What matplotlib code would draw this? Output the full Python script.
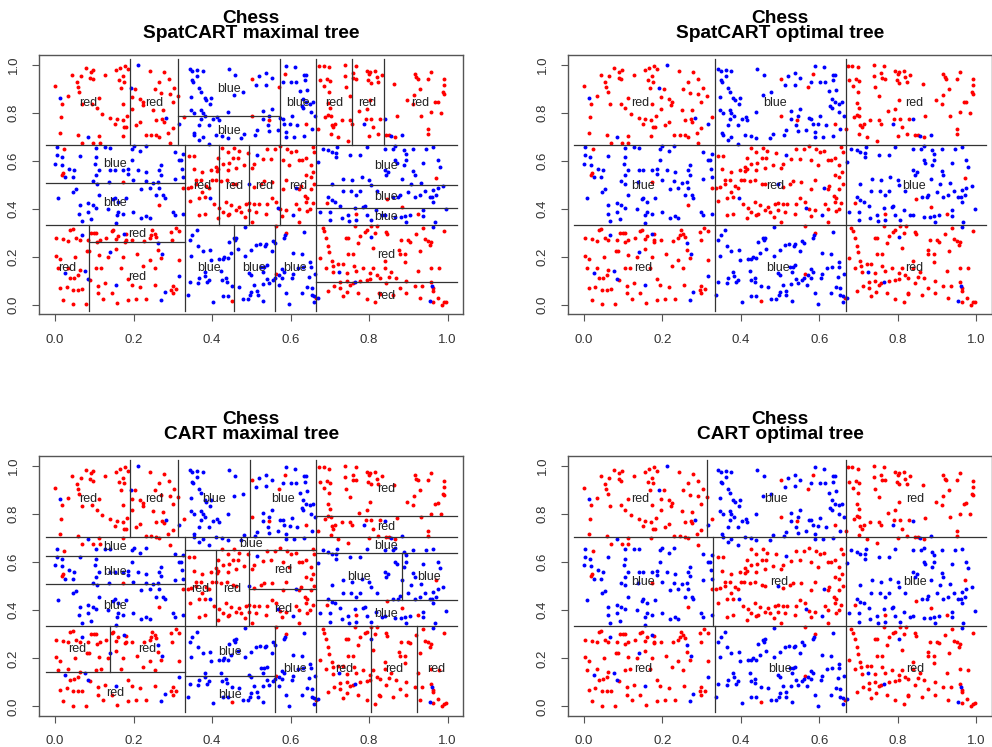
import matplotlib
matplotlib.use('Agg')
import matplotlib.pyplot as plt
import numpy as np

plt.rcParams['font.family'] = ['Liberation Sans', 'DejaVu Sans']

# chess data, points (x, y)
red_pts = [
    # top-left cell
    (0.078,0.985),(0.091,0.970),(0.098,0.979),(0.155,0.976),(0.166,0.987),(0.178,0.996),(0.186,0.981),(0.243,0.975),(0.278,0.968),
    (0.044,0.957),(0.065,0.951),(0.089,0.946),(0.096,0.938),(0.055,0.927),(0.127,0.958),(0.173,0.951),(0.163,0.934),(0.176,0.929),
    (0.266,0.929),(0.290,0.938),(0.000,0.910),(0.058,0.906),(0.061,0.885),(0.169,0.902),(0.205,0.899),(0.254,0.899),(0.304,0.904),
    (0.034,0.869),(0.113,0.862),(0.197,0.864),(0.216,0.857),(0.224,0.846),(0.271,0.880),(0.292,0.877),(0.313,0.871),
    (0.019,0.837),(0.068,0.834),(0.094,0.838),(0.106,0.819),(0.173,0.837),(0.223,0.833),(0.197,0.816),(0.250,0.812),(0.275,0.809),
    (0.300,0.844),(0.016,0.781),(0.121,0.795),(0.141,0.779),(0.157,0.772),(0.172,0.768),(0.184,0.786),(0.258,0.768),(0.272,0.772),
    (0.277,0.763),(0.328,0.781),(0.216,0.761),(0.152,0.751),(0.176,0.740),(0.182,0.740),(0.206,0.747),(0.300,0.736),
    (0.014,0.716),(0.059,0.709),(0.113,0.701),(0.172,0.701),(0.231,0.708),(0.245,0.708),(0.258,0.705),(0.266,0.700),(0.289,0.716),
    (0.070,0.675),(0.097,0.675),(0.114,0.675),(0.292,0.673),
    # noise in top-middle cell
    (0.503,0.941),(0.571,0.906),(0.585,0.961),(0.502,0.788),(0.544,0.770),(0.640,0.754),
    # top-right cell
    (0.673,0.996),(0.684,0.996),(0.699,0.989),(0.675,0.934),(0.694,0.938),(0.700,0.931),(0.685,0.910),(0.699,0.888),(0.696,0.841),
    (0.700,0.820),(0.688,0.781),(0.696,0.791),(0.702,0.788),(0.705,0.750),(0.709,0.740),(0.713,0.754),(0.702,0.712),(0.722,0.698),
    (0.669,0.730),(0.739,0.999),(0.739,0.954),(0.741,0.906),(0.751,0.871),(0.758,0.965),(0.760,0.943),(0.768,0.941),(0.766,0.996),
    (0.794,0.975),(0.802,0.971),(0.798,0.934),(0.804,0.924),(0.800,0.961),(0.815,0.975),(0.819,0.947),(0.832,0.957),(0.823,0.927),
    (0.802,0.851),(0.794,0.816),(0.775,0.806),(0.791,0.775),(0.806,0.775),(0.829,0.775),(0.730,0.768),(0.751,0.768),(0.756,0.754),
    (0.811,0.740),(0.823,0.711),(0.800,0.701),(0.844,0.705),(0.851,0.705),(0.866,0.698),(0.747,0.680),(0.863,0.920),(0.870,0.786),
    (0.897,0.851),(0.916,0.961),(0.920,0.947),(0.924,0.941),(0.950,0.941),(0.959,0.971),(0.931,0.899),(0.914,0.874),(0.912,0.837),
    (0.933,0.788),(0.959,0.802),(0.984,0.799),(0.992,0.938),(0.992,0.913),(0.988,0.885),(0.992,0.878),(0.975,0.846),(0.969,0.844),
    (0.950,0.730),(0.950,0.710),
    # noise in middle-left cell
    (0.023,0.647),(0.021,0.550),(0.019,0.542),(0.173,0.512),(0.327,0.487),(0.266,0.415),
    # centre cell
    (0.341,0.620),(0.355,0.620),(0.426,0.653),(0.440,0.636),(0.457,0.653),(0.468,0.639),(0.491,0.633),(0.541,0.647),(0.561,0.647),
    (0.573,0.661),(0.592,0.647),(0.601,0.636),(0.613,0.639),(0.660,0.636),(0.656,0.657),(0.415,0.611),(0.410,0.574),(0.416,0.564),
    (0.412,0.556),(0.427,0.588),(0.442,0.592),(0.453,0.611),(0.465,0.611),(0.440,0.560),(0.461,0.570),(0.482,0.584),(0.503,0.570),
    (0.508,0.588),(0.353,0.564),(0.375,0.553),(0.398,0.560),(0.360,0.519),(0.372,0.519),(0.360,0.501),(0.347,0.491),(0.338,0.487),
    (0.385,0.495),(0.392,0.487),(0.409,0.519),(0.400,0.519),(0.423,0.514),(0.437,0.519),(0.453,0.505),(0.461,0.501),(0.508,0.491),
    (0.525,0.505),(0.533,0.514),(0.554,0.512),(0.580,0.484),(0.588,0.519),(0.622,0.484),(0.626,0.495),(0.529,0.606),(0.550,0.609),
    (0.580,0.602),(0.596,0.581),(0.622,0.602),(0.630,0.602),(0.640,0.611),(0.651,0.581),(0.639,0.539),(0.651,0.532),(0.657,0.553),
    (0.375,0.470),(0.381,0.449),(0.366,0.445),(0.343,0.431),(0.406,0.418),(0.419,0.404),(0.436,0.429),(0.448,0.415),(0.470,0.408),
    (0.474,0.387),(0.461,0.394),(0.486,0.418),(0.495,0.422),(0.508,0.418),(0.519,0.418),(0.512,0.387),(0.495,0.394),(0.427,0.387),
    (0.440,0.376),(0.444,0.380),(0.415,0.360),(0.366,0.373),(0.381,0.380),(0.485,0.367),(0.503,0.346),(0.563,0.429),(0.552,0.443),
    (0.541,0.418),(0.537,0.380),(0.573,0.397),(0.578,0.371),(0.588,0.394),(0.614,0.418),(0.622,0.401),(0.637,0.454),(0.643,0.445),
    (0.639,0.429),(0.649,0.401),(0.643,0.390),(0.656,0.422),(0.651,0.484),(0.660,0.501),(0.622,0.346),
    # noise in middle-right cell
    (0.971,0.528),(0.692,0.422),(0.847,0.440),(0.768,0.380),(0.885,0.408),(0.925,0.380),
    # bottom-left cell
    (0.038,0.311),(0.045,0.315),(0.093,0.301),(0.099,0.301),(0.104,0.301),(0.144,0.307),(0.148,0.311),(0.180,0.293),(0.180,0.270),
    (0.178,0.263),(0.155,0.274),(0.161,0.288),(0.131,0.277),(0.114,0.270),(0.106,0.260),(0.085,0.270),(0.082,0.224),(0.063,0.270),
    (0.053,0.277),(0.034,0.266),(0.021,0.274),(0.003,0.277),(0.051,0.201),(0.087,0.224),(0.113,0.207),(0.135,0.201),(0.155,0.232),
    (0.173,0.201),(0.197,0.270),(0.209,0.210),(0.228,0.266),(0.241,0.277),(0.245,0.290),(0.254,0.297),(0.258,0.284),(0.262,0.228),
    (0.248,0.311),(0.296,0.304),(0.299,0.270),(0.317,0.307),(0.307,0.321),(0.003,0.205),(0.013,0.189),(0.008,0.152),(0.034,0.155),
    (0.063,0.145),(0.059,0.124),(0.048,0.113),(0.038,0.111),(0.089,0.104),(0.104,0.152),(0.117,0.155),(0.127,0.090),(0.169,0.155),
    (0.186,0.108),(0.195,0.083),(0.216,0.076),(0.224,0.163),(0.241,0.187),(0.254,0.152),(0.271,0.194),(0.317,0.187),(0.300,0.080),
    (0.309,0.066),(0.296,0.062),(0.300,0.048),(0.256,0.083),(0.013,0.069),(0.030,0.076),(0.047,0.062),(0.059,0.062),(0.070,0.066),
    (0.110,0.080),(0.110,0.048),(0.021,0.021),(0.047,0.003),(0.080,0.003),(0.123,0.025),(0.158,0.007),(0.186,0.021),(0.207,0.025),
    (0.233,0.025),(0.144,0.048),
    # noise in bottom-middle cell
    (0.563,0.329),(0.588,0.301),(0.564,0.127),(0.451,0.017),(0.666,0.028),
    # bottom-right cell
    (0.682,0.321),(0.685,0.307),(0.690,0.279),(0.696,0.246),(0.699,0.219),(0.675,0.194),(0.705,0.183),(0.707,0.163),(0.690,0.155),
    (0.709,0.136),(0.741,0.279),(0.747,0.279),(0.764,0.329),(0.789,0.304),(0.794,0.311),(0.806,0.329),(0.815,0.301),(0.821,0.329),
    (0.844,0.304),(0.846,0.293),(0.772,0.256),(0.810,0.235),(0.760,0.210),(0.747,0.210),(0.722,0.169),(0.733,0.169),(0.743,0.134),
    (0.761,0.163),(0.768,0.141),(0.785,0.152),(0.802,0.131),(0.811,0.152),(0.840,0.155),(0.819,0.124),(0.827,0.113),(0.802,0.108),
    (0.794,0.104),(0.777,0.100),(0.758,0.090),(0.751,0.083),(0.743,0.100),(0.727,0.097),(0.727,0.072),(0.711,0.080),(0.696,0.058),
    (0.733,0.035),(0.744,0.055),(0.772,0.048),(0.794,0.025),(0.815,0.011),(0.826,0.048),(0.827,0.044),(0.844,0.090),(0.851,0.118),
    (0.857,0.138),(0.840,0.183),(0.876,0.228),(0.878,0.210),(0.891,0.210),(0.891,0.180),(0.882,0.270),(0.899,0.270),(0.905,0.263),
    (0.920,0.297),(0.937,0.321),(0.992,0.307),(0.942,0.274),(0.950,0.266),(0.959,0.260),(0.955,0.249),(0.931,0.224),(0.959,0.155),
    (0.978,0.152),(0.925,0.141),(0.868,0.111),(0.895,0.100),(0.916,0.080),(0.935,0.080),(0.959,0.094),(0.963,0.069),(0.964,0.058),
    (0.878,0.072),(0.895,0.048),(0.929,0.028),(0.963,0.014),(0.976,0.030),(0.992,0.011),(0.986,0.000),(0.997,0.014),(0.861,0.041),
    (0.777,0.288),
]

blue_pts = [
    # noise in top-left cell
    (0.212,0.999),(0.193,0.902),(0.013,0.862),(0.283,0.777),(0.316,0.754),(0.085,0.698),
    # top-middle cell
    (0.343,0.982),(0.349,0.975),(0.362,0.979),(0.376,0.975),(0.362,0.954),(0.349,0.934),(0.351,0.929),(0.368,0.903),(0.372,0.888),
    (0.347,0.867),(0.381,0.860),(0.385,0.851),(0.398,0.860),(0.395,0.834),(0.347,0.812),(0.355,0.799),(0.372,0.812),(0.376,0.799),
    (0.372,0.775),(0.383,0.788),(0.393,0.747),(0.403,0.772),(0.413,0.781),(0.417,0.768),(0.368,0.747),(0.353,0.716),(0.355,0.705),
    (0.376,0.698),(0.368,0.685),(0.393,0.671),(0.410,0.705),(0.426,0.701),(0.440,0.694),(0.442,0.982),(0.459,0.957),(0.457,0.874),
    (0.478,0.885),(0.440,0.802),(0.482,0.712),(0.474,0.694),(0.512,0.913),(0.520,0.952),(0.537,0.965),(0.537,0.916),(0.552,0.943),
    (0.580,0.929),(0.588,0.996),(0.612,0.989),(0.602,0.929),(0.614,0.929),(0.635,0.957),(0.640,0.957),(0.636,0.934),(0.624,0.889),
    (0.643,0.896),(0.632,0.858),(0.640,0.844),(0.628,0.827),(0.632,0.819),(0.649,0.837),(0.657,0.844),(0.651,0.802),(0.662,0.788),
    (0.529,0.805),(0.552,0.816),(0.529,0.772),(0.546,0.788),(0.542,0.747),(0.574,0.777),(0.580,0.775),(0.603,0.784),(0.584,0.754),
    (0.598,0.751),(0.617,0.747),(0.654,0.730),(0.588,0.719),(0.588,0.698),(0.609,0.698),(0.635,0.701),(0.514,0.726),(0.510,0.708),
    (0.546,0.722),(0.567,0.729),
    # noise in top-right cell
    (0.840,0.772),(0.788,0.754),(0.857,0.701),(0.885,0.708),
    # middle-left cell
    (0.004,0.657),(0.004,0.622),(0.017,0.615),(0.019,0.584),(0.000,0.588),(0.036,0.567),(0.048,0.560),(0.025,0.532),(0.045,0.532),
    (0.063,0.620),(0.104,0.653),(0.127,0.657),(0.140,0.653),(0.104,0.615),(0.103,0.588),(0.113,0.560),(0.104,0.539),(0.140,0.560),
    (0.152,0.560),(0.096,0.514),(0.106,0.505),(0.138,0.512),(0.173,0.560),(0.186,0.564),(0.186,0.546),(0.200,0.661),(0.195,0.650),
    (0.216,0.639),(0.231,0.661),(0.195,0.602),(0.199,0.519),(0.212,0.560),(0.233,0.553),(0.231,0.514),(0.250,0.509),(0.262,0.512),
    (0.271,0.542),(0.266,0.560),(0.271,0.581),(0.305,0.636),(0.317,0.602),(0.321,0.602),(0.326,0.629),(0.324,0.567),(0.326,0.532),
    (0.305,0.525),(0.266,0.487),(0.275,0.456),(0.258,0.456),(0.220,0.484),(0.241,0.487),(0.008,0.443),(0.053,0.481),(0.047,0.470),
    (0.113,0.456),(0.152,0.445),(0.148,0.440),(0.182,0.443),(0.161,0.429),(0.063,0.415),(0.085,0.422),(0.096,0.415),(0.104,0.404),
    (0.062,0.380),(0.085,0.387),(0.068,0.349),(0.093,0.357),(0.135,0.401),(0.161,0.387),(0.157,0.373),(0.173,0.380),(0.155,0.339),
    (0.199,0.387),(0.220,0.362),(0.233,0.371),(0.241,0.362),(0.300,0.387),(0.305,0.373),(0.326,0.380),(0.279,0.445),
    # noise in centre cell
    (0.514,0.625),(0.495,0.501),(0.613,0.487),(0.395,0.445),(0.567,0.404),(0.607,0.376),
    # middle-right cell
    (0.682,0.650),(0.696,0.643),(0.705,0.636),(0.716,0.633),(0.717,0.615),(0.719,0.657),(0.751,0.622),(0.777,0.622),(0.794,0.657),
    (0.840,0.650),(0.860,0.650),(0.866,0.660),(0.888,0.643),(0.893,0.629),(0.912,0.650),(0.866,0.602),(0.870,0.592),(0.893,0.602),
    (0.888,0.581),(0.912,0.556),(0.916,0.539),(0.937,0.592),(0.946,0.650),(0.963,0.657),(0.975,0.602),(0.980,0.574),(0.671,0.595),
    (0.734,0.525),(0.756,0.519),(0.781,0.532),(0.800,0.519),(0.804,0.498),(0.840,0.560),(0.849,0.553),(0.844,0.539),(0.885,0.525),
    (0.908,0.505),(0.933,0.509),(0.975,0.487),(0.988,0.495),(0.963,0.477),(0.705,0.505),(0.733,0.473),(0.754,0.473),(0.777,0.473),
    (0.767,0.456),(0.819,0.473),(0.696,0.449),(0.705,0.436),(0.713,0.429),(0.726,0.411),(0.861,0.449),(0.874,0.449),(0.878,0.459),
    (0.899,0.470),(0.916,0.449),(0.929,0.456),(0.942,0.473),(0.954,0.449),(0.961,0.449),(0.971,0.456),(0.963,0.429),(0.675,0.387),
    (0.700,0.387),(0.730,0.362),(0.747,0.376),(0.764,0.404),(0.789,0.412),(0.785,0.408),(0.817,0.394),(0.794,0.376),(0.832,0.373),
    (0.840,0.376),(0.866,0.366),(0.882,0.366),(0.891,0.371),(0.904,0.376),(0.937,0.394),(0.937,0.371),(0.997,0.397),(0.700,0.353),
    (0.750,0.349),(0.768,0.353),(0.806,0.353),(0.895,0.346),(0.967,0.346),
    # noise in bottom-left cell
    (0.068,0.290),(0.175,0.297),(0.141,0.221),(0.262,0.256),(0.273,0.210),(0.025,0.131),(0.076,0.141),(0.085,0.108),(0.155,0.083),
    (0.317,0.122),(0.279,0.053),(0.271,0.021),
    # bottom-middle cell
    (0.361,0.311),(0.349,0.290),(0.343,0.270),(0.364,0.246),(0.376,0.224),(0.395,0.228),(0.398,0.187),(0.347,0.205),(0.427,0.191),
    (0.431,0.201),(0.440,0.194),(0.419,0.191),(0.444,0.260),(0.457,0.277),(0.459,0.270),(0.461,0.279),(0.465,0.232),(0.448,0.214),
    (0.485,0.205),(0.485,0.325),(0.499,0.228),(0.512,0.249),(0.522,0.252),(0.536,0.246),(0.537,0.252),(0.556,0.266),(0.561,0.256),
    (0.552,0.224),(0.586,0.290),(0.584,0.279),(0.635,0.304),(0.607,0.214),(0.630,0.210),(0.649,0.177),(0.651,0.159),(0.647,0.118),
    (0.662,0.127),(0.632,0.159),(0.620,0.155),(0.607,0.127),(0.605,0.111),(0.584,0.138),(0.578,0.149),(0.571,0.124),(0.579,0.113),
    (0.561,0.113),(0.556,0.104),(0.541,0.108),(0.546,0.090),(0.533,0.159),(0.539,0.166),(0.525,0.159),(0.531,0.138),(0.495,0.131),
    (0.499,0.124),(0.423,0.141),(0.381,0.138),(0.383,0.122),(0.368,0.111),(0.392,0.104),(0.387,0.094),(0.364,0.090),(0.343,0.094),
    (0.426,0.104),(0.436,0.113),(0.437,0.097),(0.470,0.076),(0.451,0.080),(0.508,0.083),(0.529,0.086),(0.514,0.058),(0.499,0.055),
    (0.497,0.041),(0.516,0.041),(0.491,0.025),(0.478,0.025),(0.440,0.039),(0.427,0.039),(0.402,0.014),(0.338,0.041),(0.531,0.017),
    (0.570,0.083),(0.588,0.048),(0.597,0.003),(0.630,0.048),(0.643,0.076),(0.654,0.072),(0.654,0.041),(0.660,0.035),(0.660,0.011),
    # noise in bottom-right cell
    (0.804,0.281),(0.724,0.138),(0.764,0.094),(0.963,0.325),(0.961,0.080),(0.954,0.017),(0.671,0.030),
]

# partition segments (x0, y0, x1, y1) of each tree
lo, hi = -0.024, 1.024
spat_max_splits = [
    (lo, 0.667, hi, 0.667), (lo, 0.332, hi, 0.332),
    (0.086, 0.332, 0.086, lo), (0.086, 0.260, 0.331, 0.260),
    (0.331, 0.667, 0.331, lo), (lo, 0.509, 0.331, 0.509),
    (0.418, 0.667, 0.418, 0.332), (0.494, 0.667, 0.494, 0.332),
    (0.574, hi, 0.574, 0.332), (0.665, hi, 0.665, lo),
    (0.192, hi, 0.192, 0.667), (0.314, hi, 0.314, 0.667), (0.314, 0.784, 0.574, 0.784),
    (0.757, hi, 0.757, 0.667), (0.837, hi, 0.837, 0.667),
    (0.665, 0.498, hi, 0.498), (0.665, 0.405, hi, 0.405),
    (0.456, 0.332, 0.456, lo), (0.560, 0.332, 0.560, lo),
    (0.665, 0.094, hi, 0.094),
]
spat_max_labels = [
    (0.084, 0.841, 'red'), (0.253, 0.841, 'red'), (0.444, 0.899, 'blue'), (0.444, 0.722, 'blue'),
    (0.619, 0.841, 'blue'), (0.710, 0.841, 'red'), (0.795, 0.841, 'red'), (0.929, 0.841, 'red'),
    (0.152, 0.585, 'blue'), (0.152, 0.422, 'blue'), (0.374, 0.495, 'red'), (0.456, 0.495, 'red'),
    (0.532, 0.495, 'red'), (0.619, 0.495, 'red'), (0.843, 0.578, 'blue'), (0.843, 0.450, 'blue'),
    (0.843, 0.364, 'blue'), (0.209, 0.293, 'red'), (0.030, 0.152, 'red'), (0.209, 0.115, 'red'),
    (0.393, 0.152, 'blue'), (0.506, 0.152, 'blue'), (0.612, 0.152, 'blue'), (0.843, 0.207, 'red'),
    (0.843, 0.035, 'red'),
]

spat_opt_splits = [
    (lo, 0.664, hi, 0.664), (lo, 0.332, hi, 0.332),
    (0.334, hi, 0.334, lo), (0.667, hi, 0.667, lo),
]
spat_opt_labels = [
    (0.144, 0.842, 'red'), (0.487, 0.842, 'blue'), (0.841, 0.842, 'red'),
    (0.151, 0.494, 'blue'), (0.487, 0.494, 'red'), (0.841, 0.494, 'blue'),
    (0.151, 0.154, 'red'), (0.494, 0.154, 'blue'), (0.841, 0.154, 'red'),
]

cart_max_splits = [
    (lo, 0.705, hi, 0.705), (lo, 0.334, hi, 0.334),
    (0.192, hi, 0.192, 0.705), (0.314, hi, 0.314, 0.705), (0.498, hi, 0.498, 0.705),
    (0.665, hi, 0.665, lo), (0.665, 0.791, hi, 0.791),
    (lo, 0.625, 0.331, 0.625), (lo, 0.510, 0.331, 0.510), (0.331, 0.705, 0.331, lo),
    (0.331, 0.650, 0.665, 0.650), (0.410, 0.650, 0.410, 0.334), (0.494, 0.650, 0.494, 0.334),
    (0.494, 0.489, 0.665, 0.489),
    (0.665, 0.638, hi, 0.638), (0.665, 0.442, hi, 0.442), (0.883, 0.638, 0.883, 0.442),
    (0.139, 0.334, 0.139, 0.143), (lo, 0.143, 0.331, 0.143),
    (0.331, 0.126, 0.560, 0.126), (0.560, 0.334, 0.560, lo),
    (0.806, 0.334, 0.806, lo), (0.923, 0.334, 0.923, lo),
]
cart_max_labels = [
    (0.084, 0.863, 'red'), (0.253, 0.863, 'red'), (0.406, 0.863, 'blue'), (0.581, 0.863, 'blue'),
    (0.843, 0.906, 'red'), (0.843, 0.745, 'red'), (0.498, 0.676, 'blue'), (0.843, 0.669, 'blue'),
    (0.152, 0.662, 'blue'), (0.152, 0.560, 'blue'), (0.152, 0.417, 'blue'), (0.581, 0.569, 'red'),
    (0.369, 0.489, 'red'), (0.451, 0.489, 'red'), (0.581, 0.407, 'red'), (0.775, 0.539, 'blue'),
    (0.953, 0.539, 'blue'), (0.843, 0.386, 'blue'), (0.057, 0.237, 'red'), (0.236, 0.237, 'red'),
    (0.154, 0.054, 'red'), (0.445, 0.226, 'blue'), (0.445, 0.047, 'blue'), (0.612, 0.154, 'blue'),
    (0.737, 0.154, 'red'), (0.864, 0.154, 'red'), (0.972, 0.154, 'red'),
]

cart_opt_splits = [
    (lo, 0.705, hi, 0.705), (lo, 0.334, hi, 0.334),
    (0.315, hi, 0.315, 0.705), (0.3305, 0.705, 0.3305, 0.334), (0.334, 0.334, 0.334, lo),
    (0.667, hi, 0.667, lo),
]
cart_opt_labels = [
    (0.144, 0.863, 'red'), (0.489, 0.863, 'blue'), (0.844, 0.863, 'red'),
    (0.152, 0.517, 'blue'), (0.497, 0.517, 'red'), (0.844, 0.517, 'blue'),
    (0.152, 0.154, 'red'), (0.499, 0.154, 'blue'), (0.844, 0.154, 'red'),
]

ticks = [0.0, 0.2, 0.4, 0.6, 0.8, 1.0]
tick_labels = ['0.0', '0.2', '0.4', '0.6', '0.8', '1.0']

red_x, red_y = np.array(red_pts).T
blue_x, blue_y = np.array(blue_pts).T


def draw_panel(ax, splits, labels, title):
    ax.scatter(red_x, red_y, s=8, c='#ff0000', linewidths=0, zorder=2)
    ax.scatter(blue_x, blue_y, s=8, c='#0000ff', linewidths=0, zorder=2)
    for x0, y0, x1, y1 in splits:
        ax.plot([x0, x1], [y0, y1], color='#333333', lw=0.9, zorder=3)
    for x, y, t in labels:
        ax.text(x, y, t, ha='center', va='center', fontsize=9, color='#222222', zorder=4)
    ax.set_xlim(-0.04, 1.04)
    ax.set_ylim(-0.04, 1.04)
    ax.set_xticks(ticks)
    ax.set_xticklabels(tick_labels)
    ax.set_yticks(ticks)
    ax.set_yticklabels(tick_labels, rotation=90, va='center')
    ax.tick_params(direction='out', length=5, width=0.8, color='#555555',
                   labelsize=9.5, labelcolor='#333333', pad=9)
    for sp in ax.spines.values():
        sp.set_color('#555555')
        sp.set_linewidth(1.0)
    ax.annotate('Chess', xy=(0.5, 1), xycoords='axes fraction', xytext=(0, 23.3),
                textcoords='offset points', ha='center', va='baseline',
                fontsize=13.8, fontweight='bold')
    ax.annotate(title, xy=(0.5, 1), xycoords='axes fraction', xytext=(0, 12.3),
                textcoords='offset points', ha='center', va='baseline',
                fontsize=13.8, fontweight='bold')


fig = plt.figure(figsize=(9.92, 7.47), dpi=100)
w, h = 0.4274, 0.3474
ax1 = fig.add_axes([0.0396, 0.579, w, h])
ax2 = fig.add_axes([0.5726, 0.579, w, h])
ax3 = fig.add_axes([0.0396, 0.0415, w, h])
ax4 = fig.add_axes([0.5726, 0.0415, w, h])

draw_panel(ax1, spat_max_splits, spat_max_labels, 'SpatCART maximal tree')
draw_panel(ax2, spat_opt_splits, spat_opt_labels, 'SpatCART optimal tree')
draw_panel(ax3, cart_max_splits, cart_max_labels, 'CART maximal tree')
draw_panel(ax4, cart_opt_splits, cart_opt_labels, 'CART optimal tree')

fig.savefig('out.png', dpi=100)
